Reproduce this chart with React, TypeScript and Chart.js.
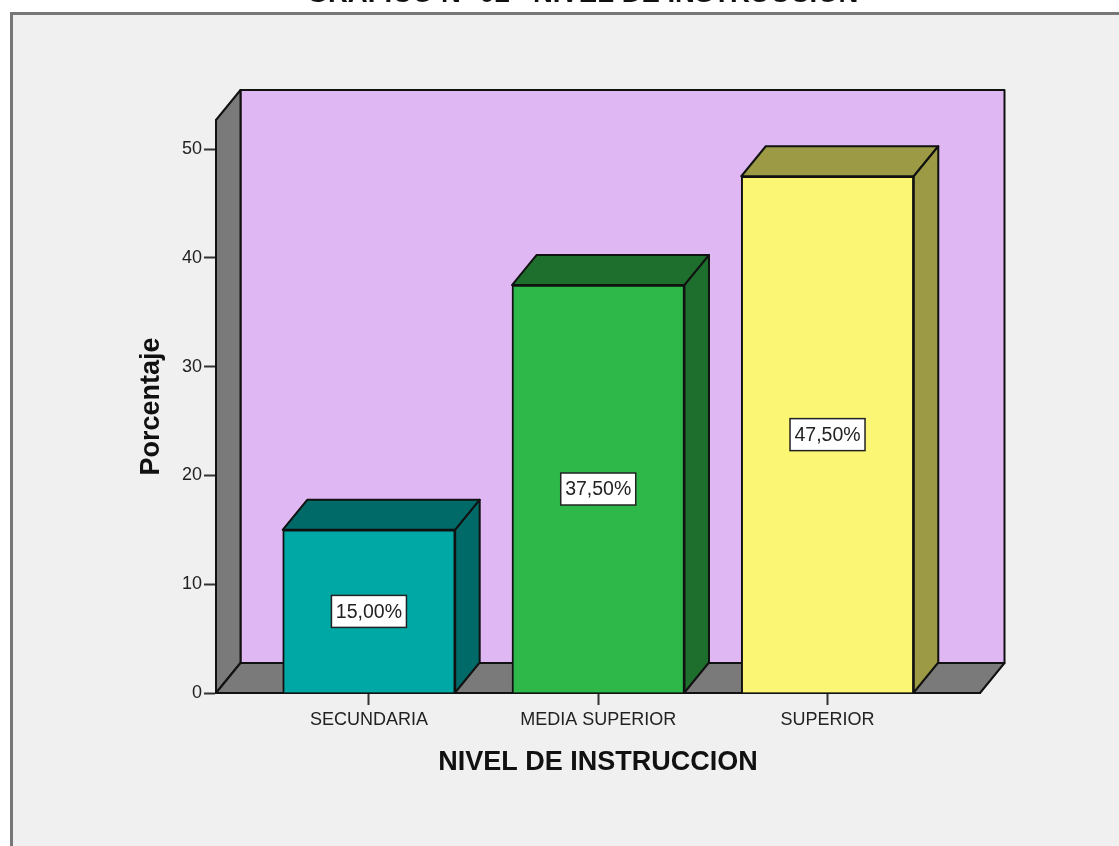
import React, { useEffect, useRef } from "react";
import { Chart, registerables } from "chart.js";

Chart.register(...registerables);

const categories = ["SECUNDARIA", "MEDIA SUPERIOR", "SUPERIOR"];
const values = [15, 37.5, 47.5];
const valueLabels = ["15,00%", "37,50%", "47,50%"];
const yTicks = [0, 10, 20, 30, 40, 50];
const faceColors = ["#00a8a5", "#2fb84a", "#fbf674"];
const shadeColors = ["#006a68", "#1e6f2e", "#9c9a45"];

const FONT = "'Liberation Sans', Arial, sans-serif";
const INK = "#111111";
const DX = 24.5;
const DY = 30;
const TITLE_SHIFT = 25;

function poly(ctx: CanvasRenderingContext2D, pts: number[][], fill: string) {
  ctx.beginPath();
  pts.forEach((p, i) => (i ? ctx.lineTo(p[0], p[1]) : ctx.moveTo(p[0], p[1])));
  ctx.closePath();
  ctx.fillStyle = fill;
  ctx.fill();
  ctx.strokeStyle = INK;
  ctx.lineWidth = 2;
  ctx.lineJoin = "round";
  ctx.stroke();
}

const scene3d = {
  id: "scene3d",
  afterLayout(chart: any) {
    if (chart.titleBlock) {
      chart.titleBlock.left += TITLE_SHIFT;
      chart.titleBlock.right += TITLE_SHIFT;
    }
  },
  beforeDraw(chart: any) {
    const { ctx, width, height } = chart;
    ctx.save();
    ctx.fillStyle = "#ffffff";
    ctx.fillRect(0, 0, width, height);
    ctx.fillStyle = "#f0f0f0";
    ctx.fillRect(11, 13, width - 11, height - 13);
    ctx.strokeStyle = "#777777";
    ctx.lineWidth = 3;
    ctx.beginPath();
    ctx.moveTo(11.5, height);
    ctx.lineTo(11.5, 13.5);
    ctx.lineTo(width, 13.5);
    ctx.stroke();
    ctx.restore();
  },
  beforeDatasetsDraw(chart: any) {
    const { ctx, chartArea: a } = chart;
    const { left: L, right: R, top: T, bottom: B } = a;
    ctx.save();
    poly(ctx, [[L + DX, T - DY], [R + DX, T - DY], [R + DX, B - DY], [L + DX, B - DY]], "#dfb8f3");
    poly(ctx, [[L, B], [L + DX, B - DY], [L + DX, T - DY], [L, T]], "#7a7a7a");
    poly(ctx, [[L, B], [L + DX, B - DY], [R + DX, B - DY], [R, B]], "#7a7a7a");
    chart.getDatasetMeta(0).data.forEach((bar: any, i: number) => {
      const l = bar.x - bar.width / 2;
      const r = bar.x + bar.width / 2;
      const y = bar.y;
      const b = bar.base;
      poly(ctx, [[l, y], [l + DX, y - DY], [r + DX, y - DY], [r, y]], shadeColors[i]);
      poly(ctx, [[r, y], [r + DX, y - DY], [r + DX, b - DY], [r, b]], shadeColors[i]);
    });
    ctx.restore();
  },
  afterDatasetsDraw(chart: any) {
    const { ctx, scales } = chart;
    ctx.save();
    chart.getDatasetMeta(0).data.forEach((bar: any, i: number) => {
      const cy = scales.y.getPixelForValue(values[i] / 2);
      const w = 75;
      const h = 32;
      ctx.fillStyle = "#ffffff";
      ctx.fillRect(bar.x - w / 2, cy - h / 2, w, h);
      ctx.strokeStyle = "#222222";
      ctx.lineWidth = 1.5;
      ctx.strokeRect(bar.x - w / 2, cy - h / 2, w, h);
      ctx.fillStyle = "#222222";
      ctx.font = `19.5px ${FONT}`;
      ctx.textAlign = "center";
      ctx.textBaseline = "middle";
      ctx.fillText(valueLabels[i], bar.x, cy + 1);
    });
    ctx.restore();
  },
};

export default function App() {
  const ref = useRef<HTMLCanvasElement | null>(null);
  useEffect(() => {
    if (!ref.current) return;
    const chart = new Chart(ref.current, {
      type: "bar",
      data: {
        datasets: [
          {
            data: categories.map((_, i) => ({ x: i, y: values[i] })),
            backgroundColor: faceColors,
            borderColor: INK,
            borderWidth: 2,
            barThickness: 172.5,
          },
        ],
      },
      plugins: [scene3d],
      options: {
        responsive: false,
        animation: false,
        devicePixelRatio: 1,
        layout: { padding: { left: 135, right: 139, top: 0, bottom: 67 } },
        plugins: {
          legend: { display: false },
          tooltip: { enabled: false },
          title: {
            display: true,
            text: "GRAFICO N° 02   NIVEL DE INSTRUCCION",
            color: "#111111",
            font: { family: FONT, size: 27.5, weight: "bold" },
            padding: { top: -22.5, bottom: 109.5 },
          },
        },
        scales: {
          x: {
            type: "linear",
            offset: false,
            min: -0.667,
            max: 2.665,
            afterFit: (s: any) => {
              s.height = 86;
            },
            afterBuildTicks: (s: any) => {
              s.ticks = categories.map((_, i) => ({ value: i }));
            },
            grid: { offset: false, drawOnChartArea: false, drawTicks: true, tickLength: 12, tickWidth: 2, tickColor: "#333333" },
            border: { display: true, color: "#222222", width: 2 },
            ticks: {
              color: "#222222",
              font: { family: FONT, size: 18 },
              padding: 4,
              maxRotation: 0,
              autoSkip: false,
              callback: (v: any) => categories[v] ?? "",
            },
            title: {
              display: true,
              text: "NIVEL DE INSTRUCCION",
              color: "#111111",
              font: { family: FONT, size: 27, weight: "bold" },
              padding: 0,
            },
          },
          y: {
            min: 0,
            max: 52.67,
            afterFit: (s: any) => {
              s.width = 81;
            },
            afterBuildTicks: (s: any) => {
              s.ticks = yTicks.map((value) => ({ value }));
            },
            grid: { drawOnChartArea: false, drawTicks: true, tickLength: 12, tickWidth: 2, tickColor: "#333333" },
            border: { display: true, color: "#222222", width: 2 },
            ticks: {
              color: "#222222",
              font: { family: FONT, size: 18 },
              padding: 2,
              autoSkip: false,
              callback: (v: any) => String(v),
            },
            title: {
              display: true,
              text: "Porcentaje",
              color: "#111111",
              font: { family: FONT, size: 27, weight: "bold" },
              padding: 0,
            },
          },
        },
      } as any,
    });
    return () => chart.destroy();
  }, []);
  return (
    <div style={{ position: "absolute", left: 0, top: 0 }}>
      <canvas ref={ref} width={1119} height={846} style={{ display: "block" }} />
    </div>
  );
}
